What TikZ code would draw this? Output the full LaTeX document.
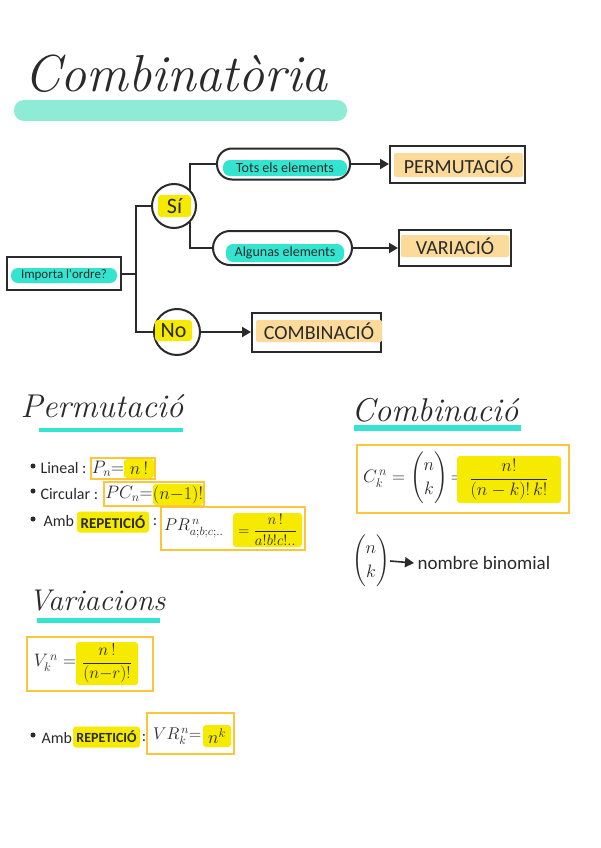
\RequirePackage{fix-cm}
\documentclass[tikz,border=0pt]{standalone}
\usepackage{fontspec}
\usepackage{amsmath}
\usetikzlibrary{arrows.meta}
\newfontfamily\handfont{Carlito}
\definecolor{ink}{HTML}{2A2A2A}
\definecolor{barteal}{HTML}{8EEBD6}
\definecolor{hlteal}{HTML}{33E5D0}
\definecolor{hlyellow}{HTML}{F6EB00}
\definecolor{hlorange}{HTML}{FBDA9A}
\definecolor{goldline}{HTML}{FBC63A}
\tikzset{
  inkbox/.style={draw=ink, line width=2pt, inner sep=0pt},
  goldbox/.style={draw=goldline, line width=2.5pt, inner sep=0pt},
  tealmark/.style={fill=hlteal, rounded corners=7pt, inner sep=0pt, text=ink, font=\handfont\fontsize{14}{14}\selectfont},
  yellowmark/.style={fill=hlyellow, rounded corners=3pt, inner sep=0pt, text=ink},
  orangemark/.style={fill=hlorange, rounded corners=2pt, inner sep=0pt, text=ink, font=\handfont\fontsize{20}{20}\selectfont},
  conn/.style={draw=ink, line width=2pt},
  arr/.style={conn, -{Triangle[length=9pt,width=10pt]}},
  heading/.style={font=\rmfamily\itshape\fontsize{33}{33}\selectfont, text=ink},
  hand/.style={font=\handfont\fontsize{16}{16}\selectfont, text=ink},
  formula/.style={font=\fontsize{18}{20}\selectfont, text=ink, inner sep=0pt},
  dot/.style={circle, fill=ink, inner sep=0pt, minimum size=5},
}
\begin{document}
\begin{tikzpicture}[x=1pt, y=-1pt]
  \useasboundingbox (0,0) rectangle (600,848);
  \fill[white] (0,0) rectangle (600,848);

  % Title
  \node[font=\rmfamily\itshape\fontsize{52}{52}\selectfont, text=ink] (title) at (176,74) {Combinatòria};
  \node[fill=barteal, rounded corners=10pt, minimum width=333, minimum height=21, inner sep=0pt] (titlebar) at (180.5,110.5) {};

  % Decision tree
  \node[inkbox, minimum width=114, minimum height=33] (ordre) at (64,273.5) {};
  \node[tealmark, minimum width=106, minimum height=15, font=\handfont\fontsize{13}{13}\selectfont] (ordretxt) at (64,275.5) {Importa l'ordre?};
  \coordinate (fork) at (136,273.5);

  \node[inkbox, circle, minimum size=44] (si) at (174,206) {};
  \node[yellowmark, minimum width=33, minimum height=22, font=\handfont\fontsize{22}{22}\selectfont] (sitxt) at (174.5,206) {Sí};
  \node[inkbox, circle, minimum size=46] (no) at (177,332) {};
  \node[yellowmark, minimum width=37, minimum height=21, font=\handfont\fontsize{22}{22}\selectfont] (notxt) at (173.5,330.5) {No};

  \node[inkbox, rounded corners=15pt, minimum width=133, minimum height=31] (tots) at (283.5,164) {};
  \node[tealmark, minimum width=124, minimum height=16] (totstxt) at (285,168) {Tots els elements};
  \node[inkbox, rounded corners=17pt, minimum width=139, minimum height=34] (alg) at (282.5,248) {};
  \node[tealmark, minimum width=118, minimum height=18] (algtxt) at (285,253) {Algunas elements};

  \node[inkbox, minimum width=135, minimum height=37] (perm) at (457.5,164) {};
  \node[orangemark, minimum width=129, minimum height=24] (permtxt) at (458.5,165) {PERMUTACIÓ};
  \node[inkbox, minimum width=112, minimum height=36] (vari) at (455,248) {};
  \node[orangemark, minimum width=108, minimum height=22] (varitxt) at (455,246) {VARIACIÓ};
  \node[inkbox, minimum width=129, minimum height=39] (comb) at (316.5,332) {};
  \node[orangemark, minimum width=126, minimum height=22] (combtxt) at (319,331) {COMBINACIÓ};

  \draw[conn] (ordre.east) -- (fork);
  \draw[conn] (si.west) -| (fork) |- (no.west);
  \draw[conn] (si.north east) |- (tots.west);
  \draw[conn] (si.south east) |- (alg.west);
  \draw[arr] (tots.east) -- (perm.west);
  \draw[arr] (alg.east) -- (vari.west);
  \draw[arr] (no.east) -- (comb.west);

  % Permutacio
  \node[heading] (permhead) at (102,406) {Permutació};
  \node[fill=hlteal, minimum width=144, minimum height=4, inner sep=0pt] (permline) at (111,430) {};

  \node[dot] (dotlin) at (33,466) {};
  \node[hand, anchor=west] (lineal) at (37,468) {Lineal :};
  \node[goldbox, minimum width=64, minimum height=21] (linbox) at (123,468.5) {};
  \node[formula] (linlhs) at (108,469) {$P_n{=}$};
  \node[yellowmark, formula, minimum width=30, minimum height=19] (linval) at (139,468.5) {$n\,!$};

  \node[dot] (dotcirc) at (33,491) {};
  \node[hand, anchor=west] (circular) at (37,494) {Circular :};
  \node[goldbox, minimum width=100, minimum height=24] (circbox) at (154,494) {};
  \node[formula] (circlhs) at (129,494) {$PC_n{=}$};
  \node[yellowmark, formula, minimum width=50, minimum height=21] (circval) at (178,494.5) {$(n{-}1)!$};

  \node[dot] (dotrep) at (33,519) {};
  \node[hand, anchor=west] (amb) at (40,521) {Amb};
  \node[yellowmark, font=\handfont\bfseries\fontsize{15}{15}\selectfont, minimum width=72, minimum height=21] (rep) at (113,522) {REPETICIÓ};
  \node[hand] (repcolon) at (155,522) {:};
  \node[goldbox, minimum width=144, minimum height=43] (repbox) at (233,528.5) {};
  \node[formula, anchor=west, font=\fontsize{17}{19}\selectfont] (replhs) at (164,528) {$PR^{\,n}_{a;b;c;..}$};
  \node[yellowmark, formula, minimum width=69, minimum height=34, font=\fontsize{15}{17}\selectfont] (repval) at (267.5,530) {$=\dfrac{n\,!}{a!b!c!..}$};

  % Combinacio
  \node[heading] (combhead) at (435,410) {Combinació};
  \node[fill=hlteal, minimum width=167, minimum height=6, inner sep=0pt] (combline) at (437.5,428) {};
  \node[goldbox, minimum width=212, minimum height=68] (combbox) at (463,479) {};
  \node[formula, anchor=west] (comblhs) at (363,478) {$C^{\,n}_k = \dbinom{n}{k}\,{=}$};
  \node[yellowmark, formula, minimum width=104, minimum height=47] (combval) at (509,479.5) {$\dfrac{n!}{(n-k)!\,k!}$};

  \node[formula] (binom) at (371,561) {$\dbinom{n}{k}$};
  \node[hand, anchor=west, font=\handfont\fontsize{19}{19}\selectfont] (nombre) at (414,563) {nombre binomial};
  \draw[arr, line width=1.6pt] (binom.east) -- (nombre.west);

  % Variacions
  \node[heading, font=\rmfamily\itshape\fontsize{30}{30}\selectfont] (varhead) at (97,601) {Variacions};
  \node[fill=hlteal, minimum width=123, minimum height=5, inner sep=0pt] (varline) at (98.5,620) {};
  \node[goldbox, minimum width=126, minimum height=54] (varbox) at (90,664) {};
  \node[formula] (varlhs) at (55,663) {$V^{\,n}_k =$};
  \node[yellowmark, formula, minimum width=62, minimum height=43, font=\fontsize{17}{19}\selectfont] (varval) at (107,663.5) {$\dfrac{n\,!}{(n{-}r)!}$};

  \node[dot] (dotvr) at (33,735) {};
  \node[hand, anchor=west] (ambvr) at (38,738) {Amb};
  \node[yellowmark, font=\handfont\bfseries\fontsize{14}{14}\selectfont, minimum width=67, minimum height=21] (repvr) at (106.5,737) {REPETICIÓ};
  \node[hand] (vrcolon) at (144,738) {:};
  \node[goldbox, minimum width=87, minimum height=41] (vrbox) at (190.5,733.5) {};
  \node[formula, anchor=west, font=\fontsize{17}{19}\selectfont] (vrlhs) at (153,736) {$VR^{\,n}_k{=}$};
  \node[yellowmark, formula, minimum width=28, minimum height=22] (vrval) at (217,736) {$n^k$};
\end{tikzpicture}
\end{document}
